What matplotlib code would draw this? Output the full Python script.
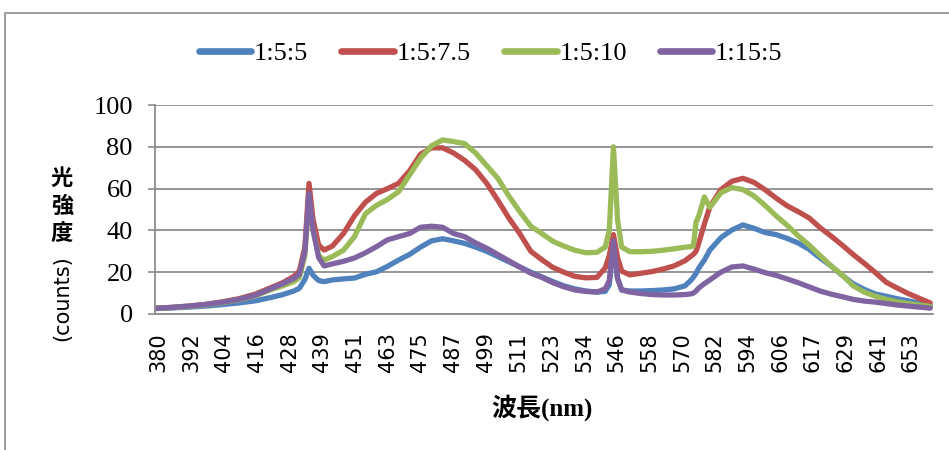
import numpy as np
import matplotlib
matplotlib.use("Agg")
from matplotlib import pyplot as plt
from matplotlib.patches import Rectangle

# wavelength sampling (nm) and the four mixing ratios
wavelength = [379, 385, 391, 397, 403, 409, 415, 421, 425, 429, 431, 433, 434.5, 436, 438,
              440, 443, 447, 451, 455, 459, 463, 467, 471, 475, 479, 483, 487, 491, 495,
              499, 503, 507, 511, 515, 519, 523, 527, 531, 535, 539, 542, 543.5, 545, 546.5,
              548, 551, 555, 559, 563, 567, 571, 573, 574, 575, 576, 578, 580, 584, 588,
              592, 596, 600, 604, 608, 612, 616, 620, 624, 628, 632, 636, 640, 644, 648,
              652, 656, 660]

r_5_5 = [2.6, 2.9, 3.3, 3.8, 4.5, 5.3, 6.3, 8.0, 9.3, 11.0, 12.3, 16.5, 21.9, 18.5, 16.0,
         15.5, 16.3, 16.8, 17.2, 19.0, 20.2, 22.8, 25.8, 28.5, 32.0, 35.0, 36.0, 35.0, 33.8, 32.0,
         30.0, 27.5, 25.0, 22.5, 20.0, 17.8, 15.5, 13.5, 12.0, 11.0, 10.5, 10.8, 14.0, 34.0, 17.0,
         11.5, 11.0, 11.0, 11.2, 11.5, 12.0, 13.5, 16.0, 17.5, 19.5, 22.0, 25.8, 30.6, 36.5, 40.2,
         42.6, 41.0, 39.0, 38.0, 36.2, 34.0, 31.0, 26.8, 23.0, 18.5, 14.5, 11.8, 9.6, 8.5, 7.3,
         6.3, 5.2, 4.0]

r_5_75 = [2.8, 3.2, 3.8, 4.6, 5.8, 7.3, 9.5, 12.8, 15.0, 18.0, 20.5, 32.0, 62.5, 45.0, 33.0,
          30.6, 32.5, 38.5, 47.0, 53.5, 57.7, 60.0, 62.5, 68.5, 76.5, 79.5, 79.5, 77.0, 73.5, 69.0,
          62.5, 54.5, 46.0, 38.5, 30.0, 26.0, 22.3, 20.0, 18.0, 17.3, 17.5, 22.0, 28.0, 38.0, 27.0,
          20.5, 18.7, 19.5, 20.3, 21.5, 23.0, 25.5, 27.5, 28.5, 30.0, 34.0, 43.0, 51.3, 59.5, 63.5,
          64.9, 63.0, 59.5, 55.5, 51.8, 49.0, 46.0, 41.3, 37.3, 33.0, 28.5, 24.3, 19.9, 15.2, 12.4,
          9.8, 7.5, 5.3]

r_5_10 = [2.7, 3.1, 3.6, 4.4, 5.4, 6.8, 8.7, 11.8, 13.5, 15.5, 17.5, 28.0, 55.0, 40.0, 28.0,
          25.8, 27.5, 30.5, 37.0, 48.0, 52.0, 54.8, 58.5, 66.5, 74.5, 80.5, 83.3, 82.5, 81.5, 77.0,
          71.0, 65.0, 56.5, 49.0, 42.0, 38.5, 34.8, 32.5, 30.5, 29.3, 29.5, 32.0, 40.0, 80.0, 45.0,
          32.0, 29.8, 29.8, 30.0, 30.5, 31.2, 32.0, 32.2, 32.5, 44.0, 47.0, 56.0, 51.0, 58.0, 60.5,
          59.5, 56.5, 52.0, 47.0, 42.5, 37.5, 33.0, 28.0, 23.0, 18.7, 13.5, 10.5, 8.5, 7.0, 5.8,
          5.0, 4.3, 3.6]

r_15_5 = [2.7, 3.2, 3.8, 4.6, 5.6, 7.0, 9.0, 12.3, 14.5, 17.0, 19.0, 30.0, 57.7, 40.0, 27.0,
          23.0, 24.0, 25.2, 26.8, 29.3, 32.2, 35.5, 37.0, 38.5, 41.5, 42.0, 41.5, 38.5, 37.0, 34.0,
          31.5, 28.5, 25.5, 22.5, 19.5, 17.5, 15.0, 13.0, 11.5, 10.8, 10.5, 12.0, 16.0, 35.0, 17.0,
          11.5, 10.5, 9.8, 9.3, 9.1, 9.1, 9.3, 9.6, 10.0, 11.0, 12.5, 14.5, 16.3, 20.0, 22.5,
          23.0, 21.5, 19.8, 18.5, 16.8, 15.0, 13.0, 11.0, 9.5, 8.3, 7.0, 6.2, 5.7, 5.0, 4.3,
          3.8, 3.3, 2.8]

series_names = ["1:5:5", "1:5:7.5", "1:5:10", "1:15:5"]
series_colors = ["#4F81BD", "#C0504D", "#9BBB59", "#8064A2"]

tick_labels = ["380", "392", "404", "416", "428", "439", "451", "463", "475", "487", "499", "511",
               "523", "534", "546", "558", "570", "582", "594", "606", "617", "629", "641", "653"]

fig = plt.figure(figsize=(9.49, 4.5), dpi=100)

# outer chart frame (runs off the right and bottom edges)
fig.patches.append(Rectangle((5 / 949, -0.2), 1.2, 1.2 - 13 / 450,
                             transform=fig.transFigure, fill=False,
                             edgecolor="#8C8C8C", linewidth=1.2))

ax = fig.add_axes([155 / 949, (450 - 314) / 450, (933 - 155) / 949, (314 - 105) / 450])

for vals, name, col in zip([r_5_5, r_5_75, r_5_10, r_15_5], series_names, series_colors):
    ax.plot(wavelength, vals, color=col, linewidth=3.8, label=name,
            solid_capstyle="round", solid_joinstyle="round")

ax.set_xlim(378.6, 661)
ax.set_ylim(0, 100)
ax.set_yticks(np.arange(0, 101, 20))
ax.yaxis.grid(True, color="#8C8C8C", linewidth=1.3)
ax.set_axisbelow(True)

xt = [380 + i * 273 / 23 for i in range(len(tick_labels))]
ax.set_xticks(xt)
ax.set_xticklabels(tick_labels, rotation=90, fontsize=15, family="DejaVu Sans")
ax.tick_params(axis="x", length=0, pad=13)
ax.tick_params(axis="y", length=5, width=1.2, color="#8C8C8C", pad=11)
for lab in ax.get_yticklabels():
    lab.set_family("Liberation Serif")
    lab.set_fontsize(19)

for side in ["top", "right"]:
    ax.spines[side].set_visible(False)
for side in ["left", "bottom"]:
    ax.spines[side].set_color("#8C8C8C")
    ax.spines[side].set_linewidth(1.3)

leg = fig.legend(loc="center", bbox_to_anchor=(0.517, 1 - 53 / 450), ncol=4, frameon=False,
                 prop={"family": "Liberation Serif", "size": 19}, handlelength=2.0,
                 handletextpad=0.1, columnspacing=1.25)
for h in leg.get_lines():
    h.set_linewidth(4.8)

# axis titles
fig.text(62 / 949, 1 - 206 / 450, "光\n強\n度", ha="center", va="center",
         family=["Noto Sans CJK TC", "DejaVu Sans"], fontsize=16, fontweight="bold",
         linespacing=1.25)
fig.text(62 / 949, 1 - 298 / 450, "(counts)", ha="center", va="center", rotation=90,
         family="DejaVu Sans", fontsize=15)
fig.text(542 / 949, 1 - 408 / 450, "波長(nm)", ha="center", va="center",
         family=["Liberation Serif", "Noto Sans CJK TC"], fontsize=18, fontweight="bold")

fig.savefig("out.png", dpi=100)
